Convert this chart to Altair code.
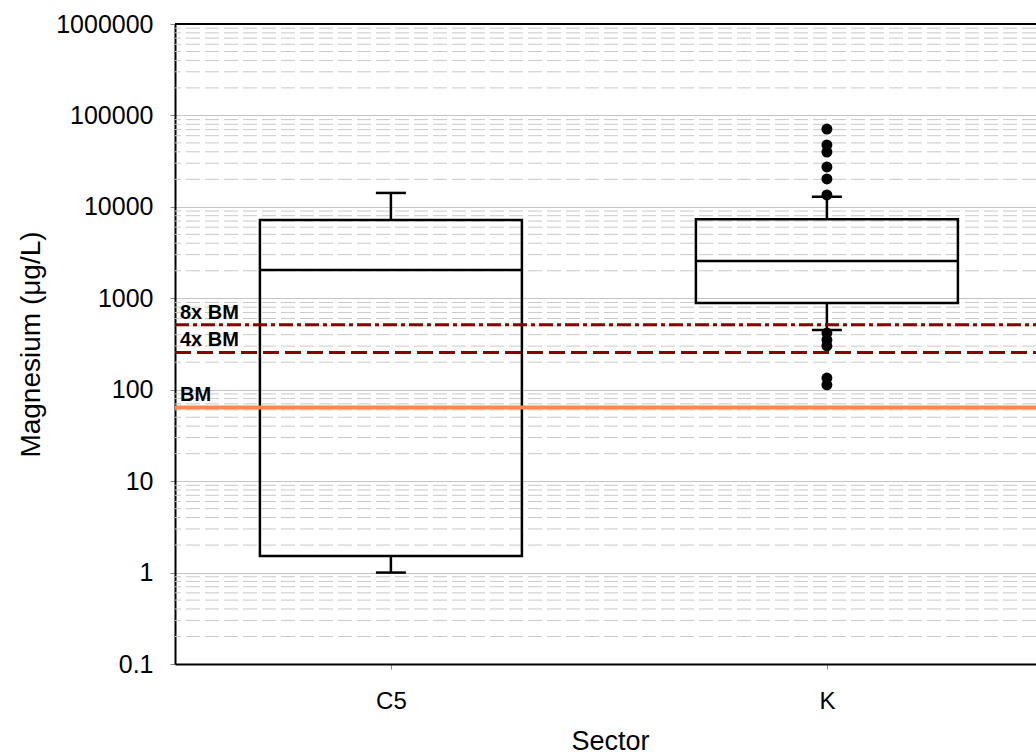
import altair as alt
import pandas as pd

# ---- data ----
sectors = ["C5", "K"]
box_low_whisker = [1.0, 450]
box_q1 = [1.52, 888]
box_median = [2040, 2560]
box_q3 = [7200, 7300]
box_high_whisker = [14200, 12900]

outlier_sector = ["K"] * 11
outlier_values = [71000, 47500, 39800, 27300, 20200, 13500, 417, 350, 301, 134, 113]

ref_values = [64, 256, 512]
ref_labels = ["BM", "4x BM", "8x BM"]

major_ticks = [0.1, 1, 10, 100, 1000, 10000, 100000, 1000000]
minor_multipliers = [2, 3, 4, 5, 6, 7, 8, 9]
minor_decades = [0.1, 1, 10, 100, 1000, 10000, 100000]

W, H = 861, 640
FONT = "Liberation Sans"

boxes = pd.DataFrame({
    "sector": sectors, "lo": box_low_whisker, "q1": box_q1,
    "med": box_median, "q3": box_q3, "hi": box_high_whisker,
})
outliers = pd.DataFrame({"sector": outlier_sector, "v": outlier_values})
refs = pd.DataFrame({"v": ref_values, "label": ref_labels})
minor = pd.DataFrame({"v": [d * m for d in minor_decades for m in minor_multipliers]})

yscale = alt.Scale(type="log", domain=[0.1, 1000000], nice=False)
xscale = alt.Scale(type="point", padding=0.48739, align=0.508)

x_enc = alt.X("sector:N", scale=xscale, sort=sectors,
              axis=alt.Axis(title="Sector", labelAngle=0, labelFontSize=24,
                            labelPadding=20, titleFontSize=27, titleFontWeight="normal",
                            titleX=435, titleY=85, titleBaseline="alphabetic",
                            grid=False, domainColor="black", domainWidth=2))

y_axis = alt.Axis(title="Magnesium (μg/L)", values=major_ticks,
                  labelExpr="datum.value < 1 ? '0.1' : format(datum.value, 'd')",
                  labelFontSize=25, labelPadding=17, titleFontSize=28,
                  titleFontWeight="normal", titleX=-130, titleY=320,
                  domainColor="black", domainWidth=2,
                  grid=True, gridColor="#c4c4c4", gridWidth=1)

grid_minor = alt.Chart(minor).mark_rule(color="#c8c8c8", strokeWidth=1,
                                         strokeDash=[14, 5]).encode(
    y=alt.Y("v:Q", scale=yscale, axis=y_axis))

box = alt.Chart(boxes).mark_bar(size=262, fillOpacity=0, stroke="black",
                                strokeWidth=2.5).encode(
    x=x_enc, y=alt.Y("q1:Q", scale=yscale), y2="q3:Q")

median = alt.Chart(boxes).mark_tick(size=262, thickness=2.5, color="black",
                                    opacity=1).encode(
    x=alt.X("sector:N", scale=xscale, sort=sectors),
    y=alt.Y("med:Q", scale=yscale))

whisk_hi = alt.Chart(boxes).mark_rule(color="black", strokeWidth=2.5).encode(
    x=alt.X("sector:N", scale=xscale, sort=sectors),
    y=alt.Y("q3:Q", scale=yscale), y2="hi:Q")
whisk_lo = alt.Chart(boxes).mark_rule(color="black", strokeWidth=2.5).encode(
    x=alt.X("sector:N", scale=xscale, sort=sectors),
    y=alt.Y("lo:Q", scale=yscale), y2="q1:Q")
cap_hi = alt.Chart(boxes).mark_tick(size=30, thickness=2.5, color="black",
                                    opacity=1).encode(
    x=alt.X("sector:N", scale=xscale, sort=sectors),
    y=alt.Y("hi:Q", scale=yscale))
cap_lo = alt.Chart(boxes).mark_tick(size=30, thickness=2.5, color="black",
                                    opacity=1).encode(
    x=alt.X("sector:N", scale=xscale, sort=sectors),
    y=alt.Y("lo:Q", scale=yscale))

pts = alt.Chart(outliers).mark_circle(size=120, color="black", opacity=1).encode(
    x=alt.X("sector:N", scale=xscale, sort=sectors),
    y=alt.Y("v:Q", scale=yscale))

def ref_rule(label, color, width, dash=None):
    kw = dict(color=color, strokeWidth=width)
    if dash:
        kw["strokeDash"] = dash
    return alt.Chart(refs).transform_filter(
        alt.datum.label == label).mark_rule(**kw).encode(
        y=alt.Y("v:Q", scale=yscale), x=alt.value(0), x2=alt.value(W))

r_bm = ref_rule("BM", "#f58a4c", 4)
r_4x = ref_rule("4x BM", "#8b0000", 3, [16, 6])
r_8x = ref_rule("8x BM", "#8b0000", 3, [14, 4, 4, 4])

ref_text = alt.Chart(refs).mark_text(align="left", baseline="alphabetic", dy=-6,
                                     fontSize=20, fontWeight="bold", font=FONT,
                                     color="black").encode(
    x=alt.value(5), y=alt.Y("v:Q", scale=yscale), text="label:N")

top_line = alt.Chart(boxes).mark_rule(color="black", strokeWidth=2).encode(
    x=alt.value(0), x2=alt.value(W), y=alt.value(0))

chart = alt.layer(
    grid_minor, box, median, whisk_hi, whisk_lo, cap_hi, cap_lo, pts,
    r_bm, r_4x, r_8x, ref_text, top_line
).properties(
    width=W, height=H,
    autosize=alt.AutoSizeParams(type="none"),
    padding={"left": 175, "top": 24, "right": 0, "bottom": 91},
).configure_view(stroke=None).configure_axis(
    labelFont=FONT, titleFont=FONT, labelColor="black", titleColor="black",
    domainColor="black", domainWidth=2, tickColor="black", tickWidth=1.5,
    tickSize=9,
).configure(background="white")

chart.save("out.html", embed_options={"renderer": "svg", "actions": False})
